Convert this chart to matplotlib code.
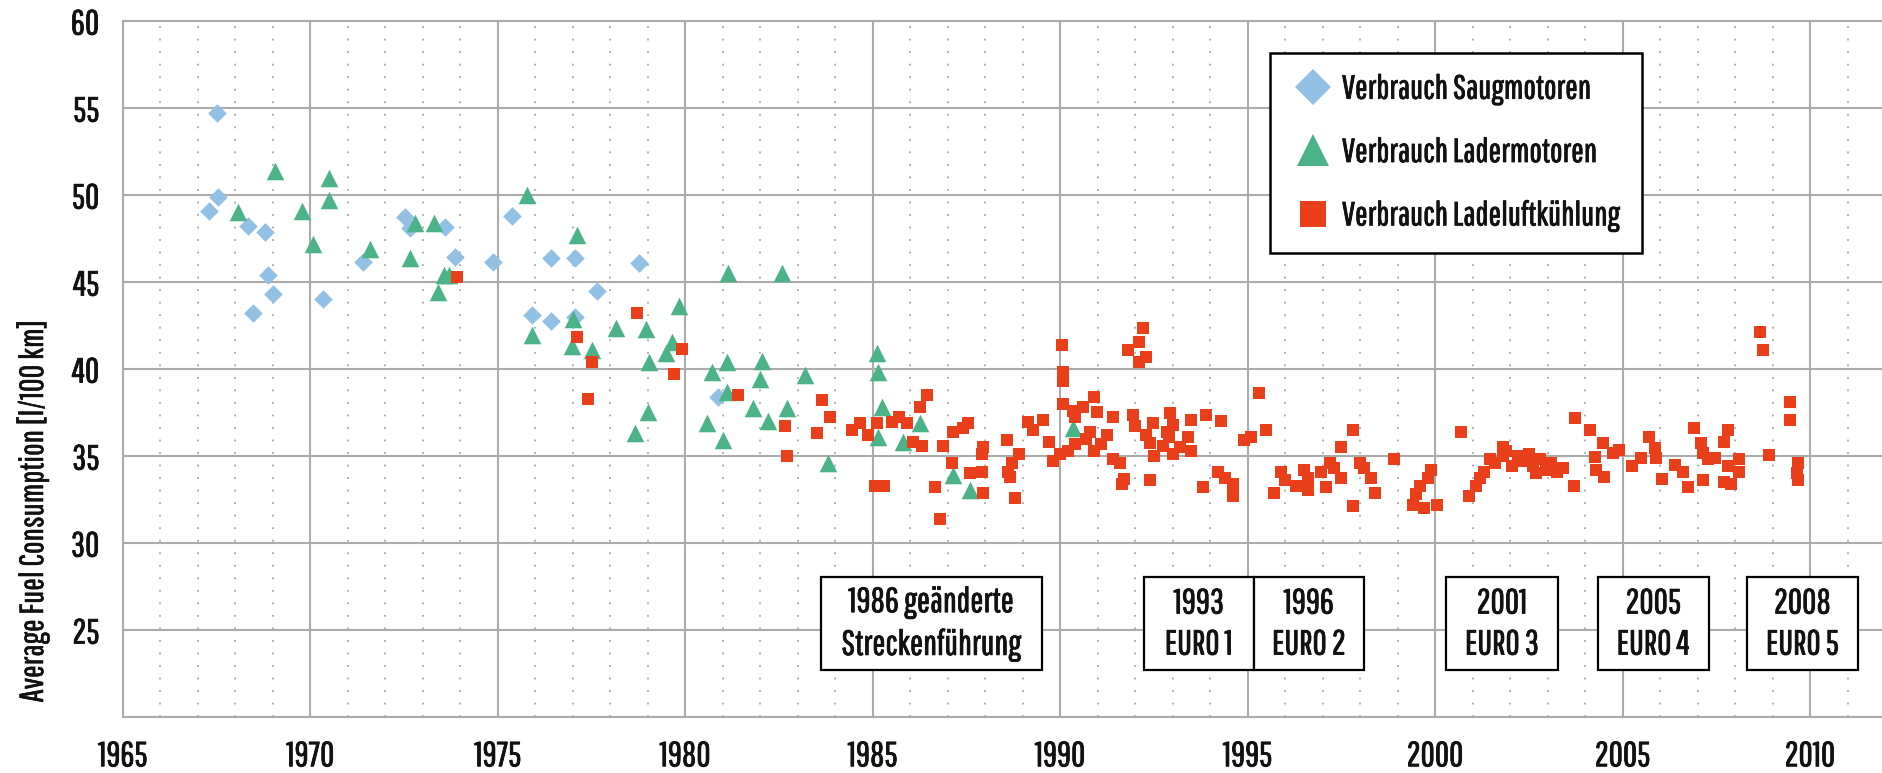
import matplotlib
matplotlib.use("Agg")
import matplotlib.pyplot as plt
from matplotlib.patches import Rectangle
from matplotlib.lines import Line2D
import matplotlib.patheffects as pe

# ---------------- data ----------------
saug_year = [1967.5, 1967.53, 1967.3, 1968.34, 1968.8, 1968.87, 1969.0, 1968.47, 1970.33,
             1971.4, 1972.52, 1972.66, 1973.59, 1973.86, 1974.87, 1975.38, 1976.42, 1977.06,
             1978.76, 1977.64, 1975.9, 1976.42, 1977.06, 1980.87]
saug_val = [54.7, 49.9, 49.1, 48.2, 47.9, 45.4, 44.3, 43.2, 44.0,
            46.15, 48.74, 48.1, 48.16, 46.44, 46.15, 48.8, 46.38, 46.38,
            46.1, 44.48, 43.1, 42.76, 43.0, 38.4]

lader_year = [1968.07, 1969.05, 1969.78, 1970.08, 1970.5, 1970.5, 1971.6, 1972.66, 1972.8,
              1973.3, 1973.4, 1973.55, 1973.7, 1975.78, 1975.9, 1977.0, 1977.1, 1976.98,
              1977.5, 1978.15, 1978.66, 1978.95, 1979.0, 1979.03, 1979.48, 1979.64, 1979.83,
              1980.58, 1980.7, 1981.0, 1981.1, 1981.1, 1981.14, 1981.8, 1981.99, 1982.04,
              1982.2, 1982.58, 1982.7, 1983.2, 1983.8, 1985.1, 1985.14, 1985.25, 1985.14,
              1985.8, 1986.26, 1987.14, 1987.6, 1990.34]
lader_val = [49.0, 51.4, 49.1, 47.2, 51.0, 49.7, 46.9, 46.4, 48.4,
             48.4, 44.4, 45.4, 45.4, 50.0, 41.95, 42.9, 47.7, 41.3,
             41.1, 42.35, 36.3, 42.3, 37.5, 40.4, 40.9, 41.55, 43.6,
             36.9, 39.8, 35.9, 40.4, 38.7, 45.5, 37.75, 39.4, 40.45,
             37.0, 45.5, 37.75, 39.65, 34.6, 40.9, 39.8, 37.8, 36.1,
             35.8, 36.9, 33.9, 33.05, 36.6]

llk_year = [1973.9, 1977.1, 1977.4, 1977.5, 1978.7, 1979.7, 1979.9, 1981.4, 1982.65, 1982.7,
            1983.5, 1983.65, 1983.86, 1984.45, 1984.66, 1984.87, 1985.06, 1985.1, 1985.3, 1985.5,
            1985.7, 1985.9, 1986.07, 1986.26, 1986.3, 1986.44, 1986.67, 1986.8, 1986.87, 1987.1,
            1987.14, 1987.4, 1987.55, 1987.6, 1987.9, 1987.93, 1987.94, 1987.9, 1988.58, 1988.6,
            1988.66, 1988.7, 1988.8, 1988.9, 1989.14, 1989.27, 1989.54, 1989.7, 1989.8, 1990.0,
            1990.05, 1990.07, 1990.07, 1990.07, 1990.2, 1990.34, 1990.4, 1990.4, 1990.6, 1990.7,
            1990.8, 1990.9, 1990.9, 1990.97, 1991.1, 1991.25, 1991.4, 1991.4, 1991.6, 1991.65,
            1991.7, 1991.8, 1991.94, 1992.0, 1992.1, 1992.1, 1992.2, 1992.3, 1992.3, 1992.4,
            1992.4, 1992.47, 1992.5, 1992.74, 1992.85, 1992.9, 1992.93, 1993.0, 1993.0, 1993.2,
            1993.4, 1993.5, 1993.5, 1993.8, 1993.9, 1994.2, 1994.3, 1994.4, 1994.6, 1994.6,
            1994.9, 1995.1, 1995.3, 1995.5, 1995.7, 1995.9, 1996.0, 1996.3, 1996.5, 1996.6,
            1996.6, 1996.95, 1997.1, 1997.2, 1997.3, 1997.5, 1997.5, 1997.8, 1997.8, 1998.0,
            1998.1, 1998.3, 1998.4, 1998.9, 1999.4, 1999.5, 1999.6, 1999.7, 1999.8, 1999.9,
            2000.05, 2000.7, 2000.9, 2001.1, 2001.2, 2001.3, 2001.45, 2001.6, 2001.8, 2001.8,
            2001.9, 2002.05, 2002.2, 2002.35, 2002.5, 2002.6, 2002.7, 2002.8, 2002.95, 2003.1,
            2003.25, 2003.4, 2003.7, 2003.73, 2004.13, 2004.26, 2004.3, 2004.48, 2004.5, 2004.75,
            2004.9, 2005.25, 2005.5, 2005.7, 2005.87, 2005.9, 2006.05, 2006.4, 2006.6, 2006.75,
            2006.9, 2007.1, 2007.15, 2007.15, 2007.28, 2007.47, 2007.7, 2007.7, 2007.8, 2007.8,
            2007.9, 2008.1, 2008.1, 2008.66, 2008.75, 2008.9, 2009.47, 2009.47, 2009.65, 2009.68,
            2009.68]
llk_val = [45.3, 41.85, 38.3, 40.4, 43.2, 39.7, 41.15, 38.5, 36.7, 35.0,
           36.3, 38.2, 37.25, 36.5, 36.9, 36.2, 33.3, 36.9, 33.3, 36.95,
           37.25, 36.9, 35.8, 37.8, 35.6, 38.5, 33.2, 31.4, 35.6, 34.6,
           36.4, 36.6, 36.9, 34.0, 35.1, 32.9, 35.5, 34.1, 35.9, 34.1,
           33.8, 34.6, 32.6, 35.1, 36.95, 36.5, 37.07, 35.8, 34.7, 35.1,
           41.4, 39.8, 39.3, 38.0, 35.3, 37.6, 37.27, 35.7, 37.8, 36.0,
           36.4, 38.4, 35.3, 37.5, 35.7, 36.2, 37.27, 34.8, 34.6, 33.4,
           33.7, 41.1, 37.35, 36.7, 41.55, 40.4, 42.35, 40.7, 36.2, 35.75,
           33.6, 36.9, 35.0, 35.6, 36.4, 36.1, 37.47, 36.8, 35.1, 35.5,
           36.1, 37.07, 35.3, 33.2, 37.35, 34.1, 37.0, 33.75, 32.7, 33.4,
           35.9, 36.1, 38.6, 36.5, 32.9, 34.1, 33.6, 33.3, 34.2, 33.75,
           33.05, 34.1, 33.2, 34.6, 34.3, 35.5, 33.75, 36.5, 32.1, 34.6,
           34.3, 33.75, 32.9, 34.8, 32.2, 32.8, 33.3, 32.0, 33.75, 34.2,
           32.2, 36.4, 32.7, 33.3, 33.75, 34.1, 34.85, 34.6, 35.5, 35.0,
           35.3, 34.4, 35.0, 34.7, 35.1, 34.4, 34.0, 34.85, 34.2, 34.6,
           34.1, 34.3, 33.3, 37.2, 36.5, 34.95, 34.2, 35.75, 33.8, 35.2,
           35.35, 34.4, 34.9, 36.1, 35.45, 34.9, 33.7, 34.5, 34.1, 33.2,
           36.6, 35.75, 35.2, 33.6, 34.8, 34.9, 35.8, 33.5, 36.5, 34.4,
           33.4, 34.8, 34.1, 42.1, 41.1, 35.05, 38.1, 37.07, 34.0, 34.6,
           33.6]

series_labels = ["Verbrauch Saugmotoren", "Verbrauch Ladermotoren", "Verbrauch Ladeluftkühlung"]
x_ticks = [1965, 1970, 1975, 1980, 1985, 1990, 1995, 2000, 2005, 2010]
y_ticks = [25, 30, 35, 40, 45, 50, 55, 60]
y_axis_label = "Average Fuel Consumption [l/100 km]"

box_texts = ["1986 geänderte\nStreckenführung", "1993\nEURO 1", "1996\nEURO 2",
             "2001\nEURO 3", "2005\nEURO 4", "2008\nEURO 5"]

# ---------------- style ----------------
plt.rcParams["font.family"] = ["Pathway Gothic One", "Roboto Condensed", "DejaVu Sans"]

C_BLUE = "#93C1E6"
C_GREEN = "#4CB389"
C_RED = "#E9401B"
GRID = "#ABABAB"
TXT = "#111111"
FS_TICK = 25
BOLDEN = [pe.withStroke(linewidth=0.6, foreground=TXT)]

W, H = 1882, 773
fig = plt.figure(figsize=(W / 100, H / 100), dpi=100)
ax_left, ax_top, ax_bottom = 123, 21, 717
ax = fig.add_axes([ax_left / W, 1 - ax_bottom / H, 1 - ax_left / W, (ax_bottom - ax_top) / H])
ax.set_xlim(1965, 1965 + (W - ax_left) / 37.49)
ax.set_ylim(20, 60)

ax.set_xticks(x_ticks)
ax.set_xticklabels([str(t) for t in x_ticks])
ax.set_xticks(list(range(1966, 2012)), minor=True)
ax.set_yticks(y_ticks)
ax.set_yticklabels([str(t) for t in y_ticks])
ax.set_yticks([20], minor=True)
ax.tick_params(axis="both", which="both", length=0)
ax.tick_params(axis="x", which="major", pad=16, labelsize=FS_TICK, labelcolor=TXT)
ax.tick_params(axis="y", which="major", pad=17, labelsize=FS_TICK, labelcolor=TXT)
for lab in ax.get_xticklabels() + ax.get_yticklabels():
    lab.set_path_effects(BOLDEN)

ax.grid(which="major", color=GRID, lw=1.5, zorder=0)
ax.grid(which="minor", axis="x", color="#9A9A9A", lw=1.1, ls=(0, (1.2, 7.0)), zorder=0)
ax.grid(which="minor", axis="y", color=GRID, lw=1.5, zorder=0)
ax.set_axisbelow(True)
for side in ["left", "bottom", "top"]:
    ax.spines[side].set_color(GRID)
    ax.spines[side].set_linewidth(1.5)
ax.spines["right"].set_visible(False)

fig.text(33 / W, 1 - 511 / H, y_axis_label, rotation=90, ha="center", va="center",
         fontsize=24, color=TXT, path_effects=[pe.withStroke(linewidth=0.4, foreground=TXT)])

# ---------------- points ----------------
ax.scatter(saug_year, saug_val, marker="D", s=90, color=C_BLUE, linewidths=0, zorder=3)
ax.scatter(lader_year, lader_val, marker="^", s=160, color=C_GREEN, linewidths=0, zorder=4)
ax.scatter(llk_year, llk_val, marker="s", s=80, color=C_RED, linewidths=0, zorder=5)

# ---------------- annotation boxes ----------------
box_x0 = [1983.62, 1992.23, 1995.17, 2000.29, 2004.34, 2008.32]
box_x1 = [1989.52, 1995.17, 1998.10, 2003.28, 2007.30, 2011.28]
box_y0, box_y1 = 22.7, 28.05
for t, x0, x1 in zip(box_texts, box_x0, box_x1):
    ax.add_patch(Rectangle((x0, box_y0), x1 - x0, box_y1 - box_y0, facecolor="white",
                           edgecolor="black", lw=1.6, zorder=6))
    ax.text((x0 + x1) / 2, (box_y0 + box_y1) / 2, t, ha="center", va="center",
            fontsize=FS_TICK, linespacing=1.3, color=TXT, zorder=7, path_effects=BOLDEN)

# ---------------- legend ----------------
handles = [
    Line2D([], [], ls="none", marker="D", ms=18, color=C_BLUE, mew=0),
    Line2D([], [], ls="none", marker="^", ms=23, color=C_GREEN, mew=0),
    Line2D([], [], ls="none", marker="s", ms=19, color=C_RED, mew=0),
]
leg = ax.legend(handles, series_labels, loc="upper left",
                bbox_to_anchor=(1270 / W, 1 - 53 / H), bbox_transform=fig.transFigure,
                frameon=True, fancybox=False, framealpha=1, edgecolor="black",
                fontsize=24, borderpad=0.65, labelspacing=1.0, handlelength=1.25,
                handletextpad=0.26, borderaxespad=0)
leg.get_frame().set_linewidth(1.8)
leg.set_zorder(10)
for txt in leg.get_texts():
    txt.set_color(TXT)
    txt.set_path_effects(BOLDEN)

fig.savefig("out.png", dpi=100)
